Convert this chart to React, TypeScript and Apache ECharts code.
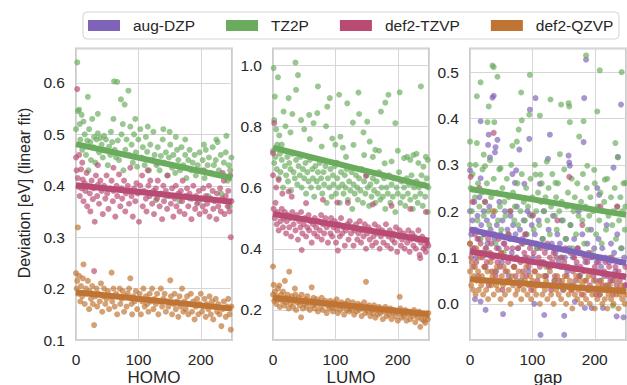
import React, { useEffect, useRef } from "react";
import * as echarts from "echarts";

const basisNames = ["aug-DZP", "TZ2P", "def2-TZVP", "def2-QZVP"];
const basisColors = ["#7f63b8", "#6aab5d", "#b84a73", "#bf7434"];
const panelLabels = ["HOMO", "LUMO", "gap"];
const yTitle = "Deviation [eV] (linear fit)";
const xTickValues = [0, 100, 200];
const fitX = [0, 250];

// ---------- HOMO ----------
const homoTZ2P = [
[0,0.51],[2,0.64],[3,0.545],[5,0.548],[6,0.52],[7,0.49],[9,0.538],[10,0.47],[12,0.525],[14,0.5],[16,0.46],[18,0.488],[19,0.573],[21,0.51],[23,0.485],[24,0.45],[26,0.53],[28,0.475],[29,0.495],[31,0.445],[33,0.49],[35,0.502],[37,0.465],[39,0.493],[41,0.48],[43,0.455],[45,0.497],[46,0.47],[48,0.49],[51,0.44],[53,0.476],[55,0.46],[56,0.505],[58,0.485],[61,0.603],[62,0.47],[64,0.455],[66,0.602],[67,0.488],[69,0.45],[72,0.568],[73,0.5],[75,0.52],[78,0.558],[79,0.47],[81,0.49],[84,0.585],[85,0.46],[87,0.515],[89,0.48],[91,0.445],[93,0.5],[96,0.465],[98,0.437],[100,0.49],[103,0.51],[105,0.455],[107,0.475],[110,0.44],[112,0.495],[114,0.466],[117,0.43],[119,0.48],[122,0.45],[124,0.505],[126,0.46],[129,0.44],[131,0.475],[134,0.43],[136,0.458],[139,0.49],[141,0.445],[144,0.465],[146,0.42],[149,0.455],[151,0.48],[154,0.435],[156,0.46],[159,0.425],[162,0.47],[164,0.45],[167,0.43],[169,0.475],[172,0.44],[175,0.46],[177,0.415],[180,0.45],[182,0.47],[185,0.43],[187,0.445],[190,0.46],[192,0.42],[195,0.44],[198,0.465],[200,0.43],[203,0.45],[206,0.415],[208,0.47],[211,0.44],[213,0.455],[216,0.425],[219,0.475],[221,0.44],[224,0.45],[225,0.49],[227,0.485],[229,0.43],[232,0.46],[235,0.42],[237,0.445],[240,0.465],[241,0.497],[243,0.41],[245,0.44],[247,0.43],[249,0.455],
[20,0.43],[76,0.43],[128,0.372],[145,0.38],[166,0.37],[182,0.375],[196,0.368],[212,0.38],[233,0.385],[246,0.36],[150,0.505],[160,0.495],[175,0.49],[205,0.48],[140,0.51],[95,0.53],[115,0.515],[60,0.53],[35,0.54]
];
const homoTZVP = [
[0,0.455],[1,0.43],[2,0.588],[3,0.415],[4,0.398],[5,0.46],[6,0.38],[8,0.432],[9,0.395],[11,0.412],[12,0.37],[14,0.405],[15,0.39],[17,0.425],[18,0.36],[20,0.4],[22,0.385],[23,0.35],[25,0.41],[27,0.374],[28,0.395],[30,0.33],[32,0.42],[34,0.38],[35,0.402],[37,0.365],[39,0.41],[41,0.39],[43,0.345],[45,0.4],[47,0.375],[49,0.42],[50,0.385],[52,0.355],[55,0.395],[57,0.41],[59,0.37],[60,0.39],[63,0.34],[65,0.4],[66,0.38],[69,0.422],[71,0.36],[73,0.395],[74,0.375],[77,0.41],[79,0.35],[80,0.385],[83,0.4],[85,0.365],[87,0.435],[89,0.38],[91,0.34],[93,0.395],[95,0.37],[97,0.405],[99,0.385],[101,0.33],[103,0.4],[106,0.42],[107,0.36],[109,0.39],[112,0.375],[113,0.35],[116,0.4],[118,0.38],[119,0.41],[122,0.365],[124,0.39],[125,0.345],[128,0.395],[130,0.375],[131,0.41],[134,0.36],[136,0.385],[138,0.335],[140,0.4],[141,0.37],[144,0.39],[146,0.355],[147,0.42],[150,0.38],[152,0.365],[154,0.395],[156,0.34],[158,0.375],[160,0.4],[161,0.36],[164,0.385],[166,0.35],[168,0.39],[170,0.37],[171,0.41],[174,0.345],[176,0.38],[178,0.395],[180,0.36],[182,0.385],[185,0.335],[186,0.375],[188,0.4],[191,0.355],[192,0.38],[194,0.365],[197,0.39],[198,0.345],[200,0.375],[203,0.36],[204,0.395],[207,0.35],[208,0.38],[210,0.365],[213,0.4],[214,0.34],[216,0.375],[219,0.39],[220,0.355],[222,0.37],[225,0.335],[226,0.385],[228,0.36],[231,0.395],[232,0.35],[234,0.375],[237,0.41],[238,0.345],[240,0.38],[243,0.36],[244,0.39],[246,0.35],[247,0.42],[248,0.3],[249,0.37],
[130,0.445],[115,0.43],[205,0.43],[235,0.425],[60,0.435],[35,0.44],[10,0.445],[29,0.234]
];
const homoQZVP = [
[0,0.23],[1,0.2],[2,0.215],[3,0.319],[4,0.19],[5,0.225],[7,0.175],[8,0.205],[10,0.185],[11,0.22],[12,0.247],[14,0.17],[16,0.2],[17,0.19],[19,0.215],[21,0.16],[22,0.195],[24,0.18],[26,0.205],[27,0.17],[29,0.129],[31,0.185],[33,0.2],[34,0.165],[36,0.19],[38,0.175],[40,0.21],[42,0.155],[44,0.185],[45,0.2],[47,0.17],[49,0.18],[51,0.195],[53,0.16],[55,0.185],[57,0.231],[58,0.175],[60,0.2],[62,0.165],[64,0.19],[66,0.15],[67,0.185],[70,0.2],[71,0.17],[73,0.18],[75,0.195],[77,0.155],[79,0.185],[81,0.165],[83,0.19],[85,0.2],[87,0.22],[89,0.17],[90,0.15],[92,0.185],[94,0.175],[96,0.195],[98,0.16],[100,0.18],[102,0.19],[104,0.15],[106,0.175],[108,0.2],[110,0.165],[112,0.185],[114,0.17],[116,0.155],[118,0.19],[120,0.175],[122,0.2],[124,0.16],[126,0.18],[128,0.17],[130,0.19],[132,0.15],[134,0.175],[136,0.2],[138,0.165],[140,0.18],[142,0.19],[144,0.155],[146,0.175],[148,0.165],[151,0.216],[152,0.185],[154,0.15],[156,0.17],[158,0.19],[160,0.16],[162,0.175],[164,0.145],[166,0.185],[168,0.165],[170,0.2],[172,0.155],[174,0.175],[176,0.16],[178,0.185],[180,0.15],[182,0.17],[184,0.19],[186,0.155],[188,0.175],[190,0.14],[192,0.165],[194,0.18],[196,0.15],[198,0.17],[200,0.19],[202,0.155],[204,0.165],[206,0.18],[208,0.145],[210,0.17],[212,0.16],[214,0.185],[216,0.15],[218,0.175],[220,0.14],[222,0.165],[224,0.18],[226,0.155],[228,0.17],[230,0.15],[233,0.127],[235,0.16],[237,0.175],[240,0.145],[242,0.165],[244,0.18],[246,0.15],[248,0.12],[249,0.165]
];
const homoFitTZ2P = [0.481, 0.415];
const homoFitTZVP = [0.401, 0.369];
const homoFitQZVP = [0.193, 0.161];

// ---------- LUMO ----------
const lumoTZ2P = [
[1,0.99],[8,0.96],[36,1.008],[40,0.967],[37,0.919],[72,0.93],[3,0.897],[25,0.892],[91,0.892],[106,0.903],[137,0.91],[185,0.903],[203,0.911],[237,0.93],[180,0.877],[119,0.875],[87,0.864],[17,0.848],[31,0.84],[58,0.837],[71,0.843],[138,0.84],[151,0.815],[173,0.848],[196,0.81],[128,0.812],[59,0.758],[78,0.734],[108,0.766],[129,0.739],[164,0.723],[210,0.696],[225,0.706],[241,0.668],[117,0.7],[146,0.706],[102,0.681],[179,0.679],[190,0.685],
[2,0.82],[5,0.79],[10,0.77],[14,0.74],[20,0.8],[28,0.78],[45,0.82],[50,0.79],[65,0.81],[85,0.8],[95,0.76],[100,0.74],[112,0.73],[145,0.78],[155,0.75],[160,0.7],[170,0.72],[200,0.72],[215,0.7],[220,0.69],[230,0.71],[245,0.7],[248,0.69],[233,0.68],
[0,0.72],[2,0.68],[4,0.7],[6,0.66],[7,0.74],[9,0.63],[11,0.71],[12,0.65],[14,0.69],[16,0.6],[18,0.72],[19,0.67],[21,0.64],[23,0.7],[24,0.62],[26,0.68],[28,0.66],[29,0.59],[31,0.71],[33,0.65],[35,0.63],[37,0.69],[39,0.61],[41,0.67],[43,0.64],[44,0.7],[46,0.6],[48,0.66],[50,0.63],[52,0.68],[53,0.58],[55,0.65],[57,0.62],[59,0.69],[61,0.6],[63,0.66],[64,0.63],[66,0.57],[68,0.67],[70,0.62],[72,0.65],[73,0.6],[75,0.68],[77,0.63],[79,0.58],[81,0.65],[82,0.61],[84,0.67],[86,0.55],[88,0.63],[90,0.6],[92,0.66],[94,0.57],[96,0.64],[97,0.61],[99,0.67],[101,0.58],[103,0.63],[105,0.6],[107,0.55],[109,0.65],[111,0.61],[113,0.58],[115,0.64],[116,0.6],[118,0.66],[120,0.56],[122,0.62],[124,0.59],[126,0.65],[127,0.53],[129,0.61],[131,0.58],[133,0.64],[135,0.6],[136,0.56],[138,0.63],[140,0.59],[142,0.66],[144,0.55],[146,0.62],[148,0.58],[150,0.64],[152,0.6],[154,0.54],[156,0.61],[158,0.57],[160,0.63],[162,0.59],[164,0.55],[166,0.62],[168,0.58],[170,0.65],[172,0.56],[174,0.6],[176,0.57],[178,0.63],[180,0.53],[182,0.6],[184,0.58],[186,0.64],[188,0.55],[190,0.61],[192,0.57],[194,0.63],[196,0.52],[198,0.6],[200,0.58],[202,0.65],[204,0.55],[206,0.62],[208,0.57],[210,0.6],[212,0.54],[214,0.63],[216,0.58],[218,0.61],[220,0.56],[222,0.64],[224,0.53],[226,0.6],[228,0.57],[230,0.62],[232,0.55],[234,0.6],[236,0.58],[238,0.64],[240,0.54],[242,0.61],[244,0.57],[246,0.63],[248,0.52],[249,0.6]
];
const lumoTZVP = [
[0,0.712],[2,0.81],[9,0.625],[25,0.587],[149,0.638],[53,0.549],[103,0.551],[46,0.396],[104,0.394],[236,0.369],[244,0.407],[0,0.64],[5,0.6],[15,0.58],[30,0.57],[80,0.56],[120,0.55],[160,0.545],[190,0.54],[220,0.53],[245,0.52],
[1,0.53],[3,0.5],[4,0.55],[6,0.48],[7,0.52],[9,0.46],[11,0.51],[12,0.49],[14,0.53],[16,0.47],[17,0.5],[19,0.52],[21,0.45],[22,0.49],[24,0.51],[26,0.47],[28,0.5],[29,0.44],[31,0.52],[33,0.48],[35,0.5],[36,0.46],[38,0.51],[40,0.43],[42,0.49],[44,0.47],[45,0.52],[47,0.45],[49,0.48],[51,0.5],[53,0.44],[55,0.47],[57,0.51],[58,0.46],[60,0.49],[62,0.42],[64,0.48],[66,0.45],[67,0.5],[69,0.47],[71,0.44],[73,0.49],[75,0.46],[77,0.51],[78,0.43],[80,0.48],[82,0.45],[84,0.5],[86,0.47],[88,0.42],[90,0.48],[92,0.45],[93,0.5],[95,0.44],[97,0.47],[99,0.49],[101,0.42],[103,0.46],[105,0.48],[107,0.44],[109,0.5],[111,0.45],[113,0.47],[115,0.41],[117,0.46],[119,0.48],[121,0.43],[123,0.49],[125,0.45],[127,0.47],[129,0.41],[131,0.46],[133,0.48],[135,0.43],[137,0.45],[139,0.49],[141,0.42],[143,0.46],[145,0.44],[147,0.48],[149,0.4],[151,0.45],[153,0.47],[155,0.43],[157,0.46],[159,0.41],[161,0.44],[163,0.48],[165,0.42],[167,0.45],[169,0.47],[171,0.4],[173,0.44],[175,0.46],[177,0.42],[179,0.45],[181,0.48],[183,0.41],[185,0.44],[187,0.46],[189,0.4],[191,0.43],[193,0.45],[195,0.42],[197,0.47],[199,0.39],[201,0.44],[203,0.46],[205,0.41],[207,0.43],[209,0.45],[211,0.4],[213,0.44],[215,0.42],[217,0.46],[219,0.39],[221,0.43],[223,0.45],[225,0.41],[227,0.44],[229,0.4],[231,0.43],[233,0.46],[235,0.38],[237,0.42],[239,0.44],[241,0.4],[243,0.43],[245,0.39],[247,0.42],[249,0.41]
];
const lumoQZVP = [
[0,0.342],[26,0.325],[149,0.292],[1,0.282],[19,0.295],[62,0.274],[45,0.176],[236,0.145],[244,0.158],[10,0.28],[35,0.27],
[0,0.25],[2,0.23],[3,0.26],[5,0.22],[6,0.245],[8,0.27],[9,0.235],[11,0.21],[13,0.25],[14,0.23],[16,0.26],[18,0.215],[20,0.24],[21,0.225],[23,0.25],[25,0.205],[27,0.235],[28,0.22],[30,0.245],[32,0.21],[34,0.23],[36,0.25],[37,0.2],[39,0.225],[41,0.24],[43,0.215],[44,0.23],[46,0.25],[48,0.205],[50,0.22],[52,0.235],[54,0.21],[55,0.245],[57,0.225],[59,0.2],[61,0.23],[63,0.215],[65,0.24],[67,0.205],[68,0.22],[70,0.235],[72,0.195],[74,0.225],[76,0.21],[78,0.24],[80,0.2],[82,0.22],[84,0.23],[86,0.19],[88,0.215],[90,0.205],[92,0.23],[94,0.21],[96,0.195],[98,0.225],[100,0.205],[102,0.235],[104,0.19],[106,0.215],[108,0.2],[110,0.225],[112,0.21],[114,0.185],[116,0.22],[118,0.2],[120,0.23],[122,0.195],[124,0.21],[126,0.2],[128,0.225],[130,0.185],[132,0.21],[134,0.195],[136,0.22],[138,0.2],[140,0.215],[142,0.18],[144,0.205],[146,0.225],[148,0.19],[150,0.21],[152,0.195],[154,0.215],[156,0.18],[158,0.2],[160,0.19],[162,0.215],[164,0.175],[166,0.2],[168,0.185],[170,0.21],[172,0.19],[174,0.2],[176,0.17],[178,0.195],[180,0.21],[182,0.18],[184,0.2],[186,0.185],[188,0.205],[190,0.17],[192,0.19],[194,0.2],[196,0.18],[198,0.195],[200,0.165],[202,0.19],[203,0.243],[204,0.205],[206,0.175],[208,0.19],[210,0.18],[212,0.2],[214,0.165],[216,0.185],[218,0.195],[220,0.17],[222,0.19],[224,0.18],[226,0.2],[228,0.16],[230,0.185],[232,0.175],[234,0.195],[238,0.17],[240,0.185],[242,0.165],[246,0.18],[248,0.17],[249,0.19]
];
const lumoFitTZ2P = [0.73, 0.603];
const lumoFitTZVP = [0.514, 0.426];
const lumoFitQZVP = [0.24, 0.186];

// ---------- gap ----------
const gapDZP = [
[186,0.527],[183,0.444],[38,0.449],[36,0.445],[105,0.444],[96,0.419],[242,0.43],[17,0.394],[128,0.365],[182,0.349],[44,0.354],[95,0.356],[30,0.365],[29,0.343],[41,0.338],[79,0.333],[32,0.316],[40,0.327],[125,0.313],[158,0.32],[159,0.305],[160,0.298],[237,0.317],[230,0.294],[74,0.288],[68,0.28],[72,0.261],[87,0.259],[0,0.288],[17,0.271],[112,0.259],[204,0.25],[207,0.235],
[113,-0.067],[151,-0.067],[25,-0.013],[53,-0.022],[119,-0.024],[151,-0.026],[213,-0.009],[235,-0.027],[246,-0.029],[184,-0.009],[195,-0.009],[8,0.01],[17,0.005],[168,0.005],[103,0.0],
[0,0.2],[2,0.15],[4,0.18],[5,0.12],[7,0.22],[9,0.16],[10,0.1],[12,0.19],[14,0.14],[15,0.23],[18,0.17],[20,0.11],[22,0.2],[23,0.15],[25,0.08],[27,0.18],[28,0.13],[31,0.21],[33,0.16],[34,0.1],[37,0.19],[39,0.14],[42,0.07],[43,0.17],[46,0.12],[47,0.22],[49,0.15],[51,0.09],[52,0.18],[54,0.13],[56,0.2],[58,0.1],[60,0.16],[62,0.06],[63,0.14],[65,0.19],[67,0.11],[69,0.17],[71,0.08],[73,0.15],[75,0.21],[77,0.12],[80,0.16],[82,0.05],[84,0.14],[86,0.18],[88,0.1],[90,0.15],[92,0.2],[94,0.07],[96,0.192],[97,0.13],[99,0.17],[101,0.1],[104,0.15],[106,0.04],[108,0.12],[110,0.18],[114,0.09],[116,0.14],[118,0.2],[121,0.06],[123,0.12],[126,0.16],[129,0.08],[131,0.13],[133,0.19],[135,0.05],[137,0.11],[140,0.15],[142,0.09],[144,0.13],[147,0.18],[149,0.03],[152,0.1],[154,0.14],[156,0.07],[159,0.12],[161,0.17],[163,0.04],[165,0.1],[167,0.14],[170,0.08],[172,0.12],[174,0.2],[176,0.06],[178,0.11],[180,0.15],[185,0.09],[188,0.13],[190,0.03],[192,0.1],[194,0.16],[197,0.07],[199,0.12],[201,0.05],[203,0.09],[206,0.14],[208,0.02],[210,0.08],[212,0.12],[215,0.06],[217,0.1],[219,0.17],[221,0.04],[223,0.09],[226,0.13],[228,0.05],[231,0.11],[233,0.07],[236,0.15],[238,0.03],[240,0.09],[243,0.12],[245,0.06],[247,0.1],[249,0.04]
];
const gapTZ2P = [
[186,0.536],[36,0.514],[38,0.511],[44,0.49],[96,0.494],[208,0.504],[243,0.5],[17,0.478],[11,0.448],[82,0.456],[129,0.441],[146,0.43],[158,0.433],[159,0.426],[204,0.415],[30,0.426],[112,0.406],[95,0.408],[160,0.392],[182,0.394],[83,0.396],[28,0.392],[39,0.392],[78,0.376],[175,0.361],[233,0.347],[68,0.341],[75,0.35],[11,0.347],[22,0.322],[123,0.307],[144,0.323],[188,0.298],[237,0.316],[49,0.293],[24,0.297],[105,0.279],[113,0.279],[137,0.261],[216,0.268],[199,0.289],[249,0.261],[0,0.35],[0,0.3],[229,-0.004],
[1,0.25],[3,0.2],[4,0.28],[6,0.16],[8,0.23],[9,0.3],[12,0.18],[13,0.26],[15,0.21],[17,0.14],[19,0.24],[20,0.29],[22,0.19],[24,0.22],[26,0.12],[27,0.26],[29,0.2],[31,0.17],[32,0.31],[34,0.23],[36,0.15],[38,0.27],[40,0.2],[41,0.13],[43,0.24],[45,0.18],[47,0.29],[48,0.21],[50,0.16],[52,0.25],[54,0.11],[55,0.22],[57,0.19],[59,0.27],[61,0.15],[62,0.23],[64,0.2],[66,0.3],[67,0.14],[69,0.24],[71,0.18],[72,0.21],[74,0.1],[76,0.26],[77,0.17],[79,0.23],[81,0.2],[83,0.28],[85,0.13],[86,0.22],[88,0.18],[90,0.25],[91,0.15],[93,0.21],[95,0.09],[97,0.27],[99,0.19],[100,0.23],[102,0.16],[104,0.3],[106,0.2],[107,0.12],[109,0.24],[111,0.17],[114,0.22],[115,0.26],[117,0.14],[119,0.2],[121,0.23],[122,0.08],[124,0.18],[126,0.25],[128,0.15],[130,0.21],[132,0.28],[134,0.12],[136,0.19],[138,0.23],[139,0.16],[141,0.26],[143,0.2],[145,0.1],[147,0.22],[149,0.18],[151,0.29],[153,0.14],[155,0.21],[157,0.24],[161,0.17],[163,0.27],[164,0.12],[166,0.2],[168,0.23],[170,0.15],[172,0.26],[174,0.19],[176,0.06],[178,0.22],[180,0.18],[181,0.28],[183,0.13],[185,0.21],[187,0.25],[189,0.16],[191,0.19],[193,0.23],[195,0.11],[197,0.2],[200,0.26],[202,0.15],[205,0.21],[207,0.18],[209,0.24],[211,0.13],[213,0.2],[215,0.22],[218,0.16],[220,0.27],[222,0.19],[224,0.1],[226,0.23],[228,0.17],[230,0.2],[232,0.25],[234,0.14],[236,0.21],[239,0.18],[241,0.23],[242,0.12],[244,0.2],[246,0.26],[248,0.16],[249,0.21]
];
const gapTZVP = [
[38,0.369],[159,0.274],[24,0.22],[101,0.191],[209,0.21],[236,0.21],[1,0.274],[4,0.22],[15,0.25],[65,0.2],[140,0.18],[180,0.17],
[0,0.13],[2,0.1],[3,0.16],[5,0.08],[7,0.12],[8,0.15],[10,0.09],[12,0.14],[13,0.06],[15,0.11],[17,0.13],[18,0.05],[20,0.1],[22,0.15],[23,0.08],[25,0.12],[27,0.09],[29,0.14],[30,0.04],[32,0.11],[34,0.13],[35,0.07],[37,0.1],[39,0.15],[41,0.06],[43,0.12],[44,0.09],[46,0.14],[48,0.08],[50,0.11],[52,0.03],[53,0.1],[55,0.13],[57,0.07],[59,0.12],[61,0.09],[62,0.15],[64,0.05],[66,0.1],[68,0.12],[70,0.08],[72,0.14],[73,0.06],[75,0.1],[77,0.12],[79,0.04],[81,0.09],[83,0.13],[85,0.07],[87,0.11],[88,0.15],[90,0.06],[92,0.1],[94,0.08],[96,0.12],[98,0.03],[100,0.09],[102,0.11],[104,0.07],[106,0.13],[108,0.05],[110,0.1],[112,0.08],[114,0.12],[116,0.04],[118,0.09],[120,0.11],[122,0.06],[124,0.13],[126,0.08],[128,0.1],[130,0.03],[132,0.09],[134,0.11],[136,0.06],[138,0.1],[141,0.12],[143,0.05],[145,0.08],[147,0.1],[149,0.04],[151,0.09],[153,0.12],[155,0.06],[157,0.08],[161,0.11],[163,0.03],[165,0.07],[167,0.1],[169,0.05],[171,0.09],[173,0.12],[175,0.06],[177,0.08],[179,0.02],[182,0.07],[184,0.1],[186,0.05],[188,0.09],[190,0.11],[192,0.04],[194,0.07],[196,0.1],[198,0.06],[200,0.08],[202,0.02],[204,0.07],[206,0.09],[208,0.05],[211,0.1],[213,0.04],[215,0.07],[217,0.09],[219,0.03],[221,0.06],[223,0.08],[225,0.05],[227,0.1],[229,0.02],[231,0.06],[233,0.08],[235,0.04],[238,0.07],[240,0.05],[242,0.09],[244,0.03],[246,0.06],[248,0.04],[249,0.08]
];
const gapQZVP = [
[37,0.2],[10,0.12],[50,0.11],[0,0.13],
[0,0.07],[2,0.04],[3,0.09],[5,0.03],[6,0.06],[8,0.08],[9,0.02],[11,0.05],[13,0.07],[14,0.03],[16,0.1],[18,0.04],[19,0.06],[21,0.02],[23,0.08],[24,0.05],[26,0.03],[28,0.07],[29,0.01],[31,0.05],[33,0.09],[34,0.04],[36,0.06],[38,0.02],[40,0.07],[42,0.04],[43,0.08],[45,0.03],[47,0.05],[49,0.01],[51,0.06],[53,0.04],[54,0.08],[56,0.02],[58,0.05],[60,0.07],[62,0.03],[63,0.05],[65,0.0],[67,0.06],[69,0.04],[71,0.08],[73,0.02],[75,0.05],[76,0.03],[78,0.07],[80,0.04],[82,0.01],[84,0.06],[86,0.03],[88,0.05],[90,0.08],[92,0.02],[94,0.04],[96,0.06],[98,0.01],[100,0.05],[102,0.03],[104,0.07],[106,0.02],[108,0.04],[110,0.06],[112,0.0],[114,0.04],[116,0.02],[118,0.06],[120,0.03],[122,0.05],[124,0.01],[126,0.04],[128,0.07],[130,0.02],[132,0.04],[134,0.0],[136,0.05],[138,0.03],[140,0.06],[142,0.02],[144,0.04],[146,0.01],[148,0.05],[150,0.03],[152,0.06],[154,0.0],[156,0.04],[158,0.02],[160,0.05],[162,0.03],[164,-0.01],[166,0.04],[168,0.02],[170,0.06],[172,0.01],[174,0.03],[176,0.05],[178,0.0],[180,0.04],[182,0.02],[184,0.05],[186,0.01],[188,0.03],[190,0.06],[192,0.0],[194,0.03],[196,0.02],[198,0.05],[200,-0.01],[202,0.03],[204,0.01],[206,0.04],[208,0.02],[210,0.05],[212,0.0],[214,0.03],[216,0.01],[218,0.04],[220,-0.01],[222,0.02],[224,0.04],[226,0.01],[228,0.03],[230,0.0],[232,0.05],[234,0.02],[236,0.03],[238,-0.01],[240,0.02],[242,0.04],[244,0.01],[246,0.03],[248,0.0],[249,0.02]
];
const gapFitDZP = [0.16, 0.088];
const gapFitTZ2P = [0.248, 0.192];
const gapFitTZVP = [0.113, 0.058];
const gapFitQZVP = [0.053, 0.027];

const yRanges = [
  [0.1, 0.667],
  [0.102, 1.054],
  [-0.078, 0.551],
];

const panelScatter = [
  [null, homoTZ2P, homoTZVP, homoQZVP],
  [null, lumoTZ2P, lumoTZVP, lumoQZVP],
  [gapDZP, gapTZ2P, gapTZVP, gapQZVP],
];
const panelFits = [
  [null, homoFitTZ2P, homoFitTZVP, homoFitQZVP],
  [null, lumoFitTZ2P, lumoFitTZVP, lumoFitQZVP],
  [gapFitDZP, gapFitTZ2P, gapFitTZVP, gapFitQZVP],
];

const FONT = "'Liberation Sans', Arial, Helvetica, sans-serif";
const TEXT = "#262626";

export default function App() {
  const ref = useRef<HTMLDivElement>(null);
  useEffect(() => {
    document.body.style.margin = "0";
    if (!ref.current) return;
    const chart = echarts.init(ref.current, null, { renderer: "svg" });
    const gridLefts = [76, 273, 470];
    const gridTop = 48.5;
    const gridW = 156;
    const gridH = 291.5;

    const grids = gridLefts.map((l) => ({
      left: l,
      top: gridTop,
      width: gridW,
      height: gridH,
      show: true,
      borderColor: "#cccccc",
      borderWidth: 2,
      backgroundColor: "#ffffff",
      containLabel: false,
    }));

    const xAxes = gridLefts.map((_, i) => ({
      type: "value",
      gridIndex: i,
      min: fitX[0],
      max: fitX[1],
      interval: 100,
      axisLine: { show: false },
      axisTick: { show: false },
      splitLine: { show: true, lineStyle: { color: "#d6d6d6", width: 1 } },
      axisLabel: {
        color: TEXT,
        fontSize: 15.5,
        fontFamily: FONT,
        margin: 11,
        showMaxLabel: false,
        formatter: (v: number) => (xTickValues.indexOf(v) >= 0 ? String(v) : ""),
      },
    }));

    const yAxes = yRanges.map((r, i) => ({
      type: "value",
      gridIndex: i,
      min: r[0],
      max: r[1],
      splitNumber: 5,
      axisLine: { show: false },
      axisTick: { show: false },
      splitLine: { show: true, lineStyle: { color: "#d6d6d6", width: 1 } },
      axisLabel: {
        color: TEXT,
        fontSize: 15.5,
        fontFamily: FONT,
        margin: 11,
        formatter: (v: number) =>
          Math.abs(v * 10 - Math.round(v * 10)) < 1e-6 ? (Math.round(v * 10) / 10).toFixed(1) : "",
      },
    }));

    const series: any[] = [];
    panelScatter.forEach((panel, p) => {
      panel.forEach((pts, b) => {
        if (!pts) return;
        series.push({
          type: "scatter",
          name: basisNames[b],
          xAxisIndex: p,
          yAxisIndex: p,
          data: pts,
          symbol: "circle",
          symbolSize: 6,
          itemStyle: { color: basisColors[b], opacity: 0.68 },
          emphasis: { disabled: true },
        });
        const f = panelFits[p][b];
        if (f) {
          series.push({
            type: "line",
            name: basisNames[b],
            xAxisIndex: p,
            yAxisIndex: p,
            data: [
              [fitX[0], f[0]],
              [fitX[1], f[1]],
            ],
            showSymbol: false,
            symbol: "none",
            lineStyle: { color: basisColors[b], width: 6 },
            itemStyle: { color: basisColors[b] },
            emphasis: { disabled: true },
          });
        }
      });
    });

    chart.setOption({
      animation: false,
      backgroundColor: "#ffffff",
      textStyle: { fontFamily: FONT },
      grid: grids,
      xAxis: xAxes,
      yAxis: yAxes,
      legend: {
        left: 88,
        top: 17.5,
        padding: 0,
        itemWidth: 32,
        itemHeight: 11,
        itemGap: 31,
        icon: "rect",
        selectedMode: false,
        textStyle: { color: TEXT, fontSize: 15.5, fontFamily: FONT, padding: [0, 0, 0, 8] },
        data: basisNames.map((n, i) => ({
          name: n,
          icon: "rect",
          itemStyle: { color: basisColors[i], opacity: 1, borderWidth: 0 },
        })),
      },
      graphic: [
        {
          type: "rect",
          z: 0,
          shape: { x: 83, y: 12, width: 536, height: 27, r: 4 },
          style: { fill: "#ffffff", stroke: "#d4d4d4", lineWidth: 1 },
        },
        {
          type: "text",
          x: 24,
          y: 193,
          rotation: Math.PI / 2,
          style: {
            text: yTitle,
            fontSize: 16,
            fontFamily: FONT,
            fill: TEXT,
            textAlign: "center",
            textVerticalAlign: "middle",
          },
        },
        ...panelLabels.map((t, i) => ({
          type: "text",
          x: gridLefts[i] + gridW / 2,
          y: 377,
          style: {
            text: t,
            fontSize: 17,
            fontFamily: FONT,
            fill: TEXT,
            textAlign: "center",
            textVerticalAlign: "middle",
          },
        })),
      ],
      series,
    });
    return () => chart.dispose();
  }, []);
  return <div ref={ref} style={{ width: 627, height: 385 }} />;
}
